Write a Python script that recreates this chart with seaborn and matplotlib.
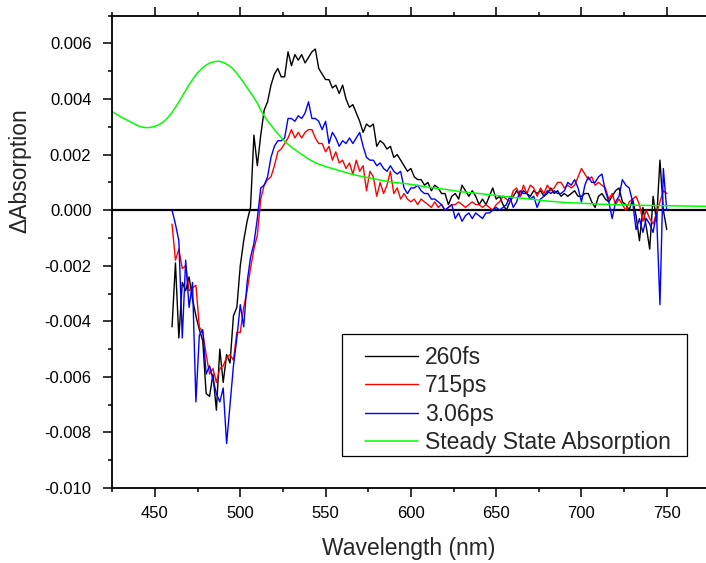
import numpy as np
import pandas as pd
import matplotlib
matplotlib.use("Agg")
import matplotlib.pyplot as plt
from matplotlib.patches import Rectangle
from matplotlib.ticker import MultipleLocator, FormatStrFormatter
import seaborn as sns

# Transient absorption spectra (units of 1e-3 OD) on a 2 nm grid
wavelength = np.arange(460, 751, 2)

abs_260fs = [
    -4.2, -1.9, -4.6, -2.6, -2.9, -2.4, -3.2, -3.8, -4.3, -4.7,
    -6.6, -6.7, -5.9, -7.2, -5.0, -6.2, -5.2, -5.5, -3.8, -3.5,
    -2.0, -1.1, -0.4, 0.1, 2.7, 1.6, 2.7, 3.6, 3.9, 4.5,
    4.9, 5.1, 4.8, 4.8, 5.7, 5.2, 5.6, 5.4, 5.6, 5.3,
    5.5, 5.7, 5.8, 5.1, 4.9, 4.7, 4.7, 4.4, 4.5, 4.2,
    4.5, 4.0, 3.7, 3.8, 3.5, 3.2, 2.8, 3.1, 3.0, 3.1,
    2.3, 2.5, 2.4, 2.2, 2.3, 1.9, 2.0, 1.8, 1.6, 1.4,
    1.5, 1.2, 1.1, 1.1, 0.9, 1.0, 0.7, 0.9, 0.8, 0.6,
    0.6, 0.2, 0.5, 0.6, 0.4, 0.9, 0.7, 0.5, 0.7, 0.5,
    0.2, 0.4, 0.2, 0.5, 0.8, 0.4, 0.5, 0.2, 0.0, 0.3,
    0.5, 0.7, 0.5, 0.7, 0.6, 0.5, 0.7, 0.6, 0.7, 0.5,
    0.6, 0.8, 0.6, 0.7, 0.5, 0.6, 0.5, 0.6, 0.7, 0.5,
    0.5, 0.6, 0.6, 0.3, 0.1, 0.5, 0.6, 0.4, 0.3, 0.5,
    0.7, 0.8, 0.3, 0.2, 0.0, 0.4, -0.2, -1.1, 0.1, -0.6,
    -1.4, 0.5, -0.4, 1.8, 0.0, -0.7,
]

abs_715ps = [
    -0.5, -1.8, -1.4, -2.1, -2.0, -2.9, -2.8, -2.7, -4.2, -4.4,
    -5.2, -5.9, -5.7, -6.2, -5.7, -5.6, -5.3, -5.2, -5.4, -4.4,
    -4.4, -3.5, -2.9, -2.1, -1.4, -0.9, 0.4, 0.9, 1.1, 1.2,
    1.6, 2.1, 2.2, 2.4, 2.6, 2.9, 2.6, 2.8, 2.6, 2.8,
    2.9, 2.9, 2.6, 2.4, 2.4, 2.1, 2.3, 1.8, 2.1, 1.7,
    1.8, 1.5, 1.7, 1.3, 1.8, 1.4, 1.6, 0.7, 1.4, 1.2,
    0.5, 1.0, 0.6, 0.9, 1.4, 0.6, 0.8, 0.4, 0.6, 0.4,
    0.3, 0.4, 0.2, 0.4, 0.3, 0.2, 0.1, 0.3, 0.1, 0.2,
    0.0, 0.1, 0.2, 0.2, 0.3, 0.2, 0.1, 0.2, 0.3, 0.2,
    0.2, 0.1, 0.2, 0.1, 0.0, 0.2, 0.3, 0.5, 0.4, 0.3,
    0.7, 0.8, 0.5, 0.9, 0.6, 0.9, 0.8, 0.5, 0.8, 0.6,
    0.9, 0.7, 0.8, 1.0, 1.0, 0.8, 0.9, 0.8, 0.9, 1.2,
    1.5, 1.3, 1.1, 1.2, 0.9, 1.0, 0.9, 0.8, 0.4, 0.6,
    0.2, 0.4, 0.2, 0.0, 0.3, 0.4, 0.5, 0.2, -0.4, 0.0,
    -0.3, -0.5, -0.1, 0.3, 0.7, 0.6,
]

abs_306ps = [
    0.0, -0.5, -1.1, -4.6, -1.8, -3.5, -2.6, -6.9, -4.5, -4.3,
    -5.9, -5.6, -6.1, -6.6, -6.9, -6.4, -8.4, -7.0, -5.6, -4.6,
    -3.4, -4.2, -2.6, -1.7, -1.2, -0.3, 0.8, 0.9, 1.2, 1.9,
    2.3, 2.5, 2.5, 2.6, 3.3, 3.3, 3.2, 3.4, 3.3, 3.5,
    3.9, 3.3, 3.3, 3.2, 2.9, 3.2, 2.4, 2.8, 2.6, 2.3,
    2.5, 2.4, 2.6, 2.4, 2.6, 2.8, 2.3, 1.9, 1.8, 1.8,
    1.6, 1.7, 1.5, 1.4, 1.6, 1.4, 1.3, 1.4, 0.8, 0.6,
    0.8, 0.8, 0.9, 0.7, 0.6, 0.6, 0.4, 0.4, 0.3, 0.2,
    0.0, 0.1, 0.2, -0.3, -0.1, -0.4, -0.2, -0.1, -0.3, -0.1,
    -0.2, -0.3, -0.1, -0.1, 0.0, 0.1, 0.0, 0.1, 0.2, 0.5,
    0.1, 0.3, 0.7, 0.6, 0.6, 0.4, 0.5, 0.1, 0.4, 0.5,
    0.7, 0.6, 0.7, 0.6, 0.6, 0.7, 1.0, 0.9, 1.1, 0.8,
    0.3, 0.9, 1.2, 1.0, 1.0, 1.2, 1.3, 0.7, 0.3, -0.3,
    0.3, 0.5, 1.1, 0.9, 0.8, 0.3, -0.7, -0.3, -0.8, -0.3,
    -0.5, -0.8, -0.1, -3.4, 1.5, 0.0,
]

# Steady-state absorption spectrum (scaled, units of 1e-3)
ss_wavelength = [
    425, 430, 435, 440, 442.5, 445, 447.5, 450, 452.5, 455,
    457.5, 460, 462.5, 465, 467.5, 470, 472.5, 475, 477.5, 480,
    482.5, 485, 487.5, 490, 492.5, 495, 497.5, 500, 502.5, 505,
    507.5, 510, 512.5, 515, 517.5, 520, 522.5, 525, 527.5, 530,
    535, 540, 545, 550, 555, 560, 565, 570, 575, 580,
    585, 590, 595, 600, 610, 620, 630, 640, 650, 660,
    670, 680, 690, 700, 710, 720, 730, 740, 750, 760,
    773,
]
ss_absorption = [
    3.54, 3.36, 3.20, 3.04, 2.99, 2.97, 2.98, 3.02, 3.08, 3.18,
    3.33, 3.52, 3.75, 4.00, 4.26, 4.52, 4.74, 4.95, 5.10, 5.22,
    5.31, 5.35, 5.36, 5.32, 5.24, 5.13, 4.96, 4.76, 4.55, 4.32,
    4.10, 3.85, 3.55, 3.30, 3.10, 2.90, 2.72, 2.55, 2.40, 2.27,
    2.05, 1.84, 1.68, 1.57, 1.48, 1.39, 1.30, 1.23, 1.17, 1.11,
    1.05, 1.00, 0.97, 0.93, 0.83, 0.75, 0.66, 0.60, 0.53, 0.46,
    0.40, 0.33, 0.28, 0.25, 0.22, 0.20, 0.18, 0.17, 0.16, 0.15,
    0.14,
]

series_labels = ["260fs", "715ps", "3.06ps"]
series_colors = ["#000000", "#ff0000", "#0000ff"]
ss_label = "Steady State Absorption"
ss_color = "#00ff00"

sns.set_style("ticks")
plt.rcParams["font.family"] = ["Liberation Sans", "DejaVu Sans"]
plt.rcParams["axes.unicode_minus"] = False

fig = plt.figure(figsize=(7.06, 5.63), dpi=100)
ax = fig.add_axes([0.1591, 0.1332, 0.8409, 0.8389])

frames = []
for label, values in zip(series_labels, [abs_260fs, abs_715ps, abs_306ps]):
    frames.append(pd.DataFrame({
        "wavelength": wavelength,
        "dA": np.asarray(values) * 1e-3,
        "series": label,
    }))
ta = pd.concat(frames, ignore_index=True)

for label, color in zip(series_labels, series_colors):
    sub = ta[ta["series"] == label]
    sns.lineplot(data=sub, x="wavelength", y="dA", ax=ax, color=color,
                 linewidth=1.0, label=label, estimator=None, sort=False)

ss = pd.DataFrame({"wavelength": ss_wavelength,
                   "abs": np.asarray(ss_absorption) * 1e-3})
sns.lineplot(data=ss, x="wavelength", y="abs", ax=ax, color=ss_color,
             linewidth=1.1, label=ss_label, estimator=None, sort=False)

ax.axhline(0, color="black", linewidth=1.6, zorder=1)

ax.set_xlim(425, 773)
ax.set_ylim(-0.010, 0.007)
ax.xaxis.set_major_locator(MultipleLocator(50))
ax.xaxis.set_minor_locator(MultipleLocator(25))
ax.yaxis.set_major_locator(MultipleLocator(0.002))
ax.yaxis.set_minor_locator(MultipleLocator(0.001))
ax.yaxis.set_major_formatter(FormatStrFormatter("%.3f"))

ax.tick_params(axis="both", which="major", direction="out", length=6.5,
               width=1.1, labelsize=12, color="black", labelcolor="black")
ax.tick_params(axis="both", which="minor", direction="out", length=3.2,
               width=1.1, color="black")
ax.tick_params(axis="x", which="both", top=True, labeltop=False, pad=6.5)
ax.tick_params(axis="y", which="both", right=False, pad=8.5)

for side in ["left", "bottom", "top"]:
    ax.spines[side].set_linewidth(1.3)
    ax.spines[side].set_color("black")
ax.spines["right"].set_visible(False)

ax.set_xlabel("Wavelength (nm)", fontsize=16.5, labelpad=11.5)
ax.set_ylabel("\u0394Absorption", fontsize=16.5)
ax.yaxis.set_label_coords(-0.137, 0.671)

# Legend entries without their own frame; the box is drawn separately
leg = ax.legend(loc="upper left", bbox_to_anchor=(0.4259, 0.3011),
                fontsize=16.5, frameon=False, handlelength=2.3,
                handletextpad=0.3, labelspacing=0.24, borderpad=0,
                borderaxespad=0)
ax.add_patch(Rectangle((0.3872, 0.0678), 0.5808, 0.2583,
                       transform=ax.transAxes, fill=False,
                       edgecolor="black", linewidth=0.9, zorder=5))

fig.savefig("out.png", dpi=100)
